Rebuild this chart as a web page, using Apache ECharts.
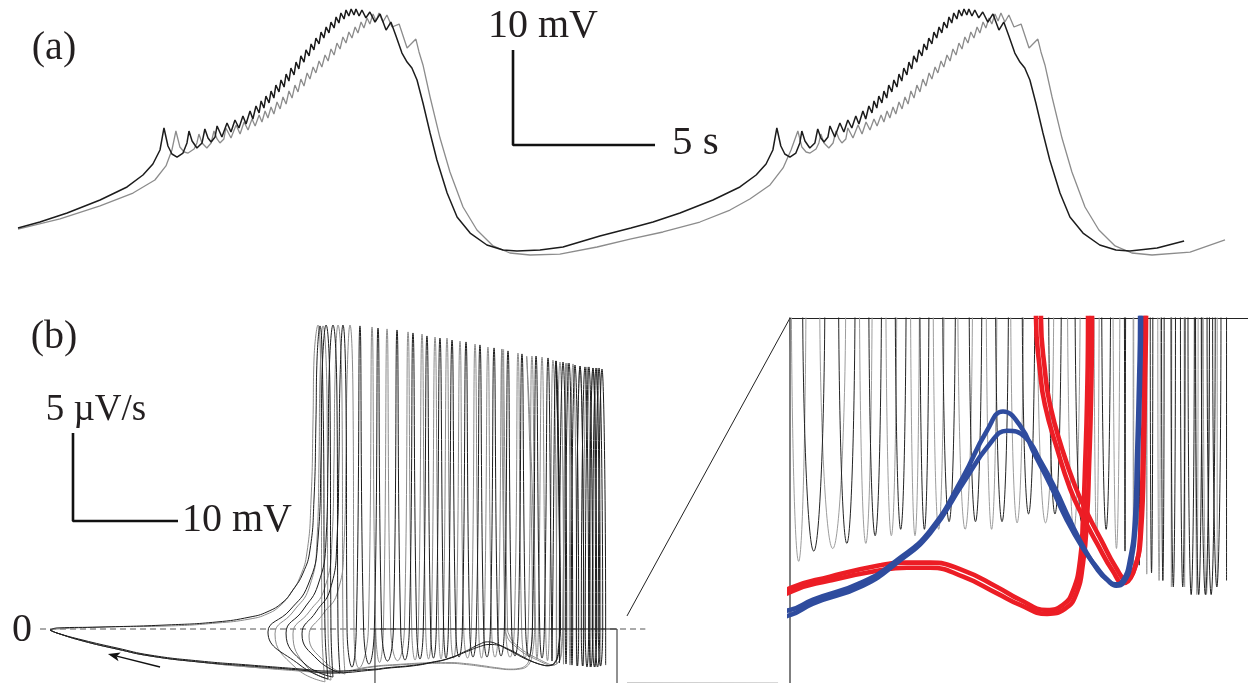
<!DOCTYPE html>
<html><head><meta charset="utf-8">
<script src="https://cdn.jsdelivr.net/npm/echarts@6/dist/echarts.min.js"></script>
<style>html,body{margin:0;padding:0;background:#fff}#c{width:1248px;height:683px}</style>
</head><body><div id="c"></div>
<script>
// ================= Panel (a): membrane voltage V (mV) vs time t (s) =================
const blackRise = [[0,-54.0],[0.77,-53.37],[1.73,-52.42],[2.89,-51.05],[3.84,-49.68],[4.40,-48.42],[4.75,-47.26],[5.00,-45.79]];
const blackBurst = [[5.14,-43.47],[5.28,-45.37],[5.42,-46.21],[5.60,-46.53],[5.81,-46.11],[5.95,-45.05],[6.02,-43.79],[6.13,-44.84],[6.30,-45.58],[6.48,-45.05],[6.58,-43.58],[6.69,-44.53],[6.80,-44.95],[6.94,-44.42],[7.01,-43.26],
 [7.18,-44.42],[7.36,-42.95],[7.50,-43.89],[7.64,-42.63],[7.78,-43.47],[7.92,-42.21],[8.03,-43.05],[8.17,-41.68],[8.27,-42.53],[8.38,-41.16],[8.49,-41.89],[8.56,-40.63],[8.66,-41.37],[8.73,-40.11],[8.84,-40.84],[8.91,-39.58],[9.01,-40.32],[9.08,-38.95],[9.19,-39.68],[9.26,-38.42],[9.37,-39.16],[9.44,-37.79],[9.54,-38.53],[9.61,-37.16],[9.72,-37.89],[9.79,-36.53],[9.89,-37.26],[9.96,-35.89],[10.07,-36.53],[10.14,-35.26],[10.25,-35.89],[10.32,-34.63],[10.42,-35.26],[10.49,-34.0],[10.60,-34.63],[10.67,-33.37],[10.77,-34.0],[10.85,-32.84],[10.95,-33.47],[11.02,-32.32],[11.13,-32.95],[11.20,-31.79],[11.30,-32.42],[11.37,-31.37],[11.48,-32.0],[11.55,-31.05],[11.65,-31.68],[11.73,-30.95],[11.83,-31.58],[11.90,-30.95],[12.01,-31.68],[12.11,-31.05],[12.25,-31.89],[12.39,-31.26],[12.57,-32.32],[12.75,-31.47],[12.96,-33.16],[13.13,-32.32],[13.31,-33.79],
 [13.52,-35.58],[13.70,-36.53],[13.87,-37.16],[14.05,-38.42],[14.26,-40.84],[14.51,-44.0],[14.75,-46.84],[15.11,-50.32],[15.46,-52.84],[15.92,-54.53],[16.51,-55.79],[17.08,-56.32],[17.57,-56.42]];
const blackInterburst = [[18.38,-56.32],[19.19,-56.0],[20.49,-54.84],[21.58,-54.0],[22.36,-53.37],[23.31,-52.42],[24.47,-51.05],[25.42,-49.68],[25.99,-48.42],[26.34,-47.26],[26.58,-45.79]];
const blackTail = [[40.11,-56.11],[41.06,-55.37]];
const blackPeriod = 21.58;

const grayRise = [[0,-54.11],[1.48,-53.05],[2.89,-51.68],[4.05,-50.32],[4.82,-48.95],[5.21,-47.47],[5.42,-45.79]];
const grayBurst = [[5.56,-43.79],[5.70,-45.47],[5.85,-46.0],[5.99,-46.11],[6.20,-45.68],[6.30,-45.05],[6.37,-44.11],[6.48,-45.05],[6.65,-45.58],[6.80,-45.05],[6.90,-43.79],[7.01,-44.63],[7.11,-45.05],[7.25,-44.63],[7.32,-43.47],
 [7.50,-44.53],[7.68,-43.16],[7.82,-44.11],[7.96,-42.84],[8.10,-43.68],[8.24,-42.53],[8.35,-43.26],[8.49,-42.11],[8.59,-42.84],[8.70,-41.68],[8.80,-42.42],[8.91,-41.26],[9.01,-42.0],[9.12,-40.74],[9.23,-41.47],[9.33,-40.21],[9.44,-40.95],[9.54,-39.58],[9.65,-40.32],[9.75,-38.95],[9.86,-39.68],[9.96,-38.32],[10.07,-39.05],[10.18,-37.68],[10.28,-38.32],[10.39,-37.05],[10.49,-37.68],[10.60,-36.42],[10.70,-37.05],[10.81,-35.79],[10.92,-36.42],[11.02,-35.16],[11.13,-35.79],[11.23,-34.53],[11.34,-35.16],[11.44,-33.89],[11.55,-34.53],[11.65,-33.37],[11.76,-34.0],[11.87,-32.84],[11.97,-33.47],[12.08,-32.32],[12.18,-32.95],[12.29,-31.89],[12.39,-32.53],[12.50,-31.47],[12.61,-32.21],[12.71,-31.37],[12.85,-32.32],[12.99,-31.58],[13.17,-32.84],[13.42,-32.53],[13.70,-35.05],[14.01,-34.11],
 [14.12,-35.47],[14.26,-36.84],[14.51,-40.21],[14.86,-44.53],[15.21,-48.11],[15.67,-51.79],[16.16,-54.21],[16.73,-55.89],[17.32,-56.63],[18.03,-56.84]];
const grayInterburst = [[19.08,-56.74],[20.39,-56.0],[21.55,-55.16],[22.71,-54.42],[24.01,-53.37],[25.07,-52.11],[25.77,-50.95],[26.48,-49.47],[26.94,-47.68],[27.22,-45.79]];
const grayTail = [[41.27,-56.53],[42.50,-55.26]];
const grayPeriod = 21.90;

// ================= Panel (b): phase plane, dV/dt (µV/s) vs V (mV) =================
const blackOnset = [[-60.0,-0.06],[-59.33,0.06],[-55.24,0.11],[-48.86,0.23],[-44.10,0.40],[-40.95,0.68],[-39.33,0.97],[-37.81,1.53],[-36.86,2.22],[-35.90,3.18],[-35.24,4.49],[-34.86,7.33],[-34.67,11.88],[-34.57,15.28],
 [-34.29,17.22],[-34.0,13.01],[-33.81,0],[-33.52,-2.84],[-36.19,-2.05],[-39.24,-0.17],[-37.14,1.08],[-35.43,2.50],[-34.48,5.06],[-34.19,9.60],[-34.10,14.15],
 [-33.71,17.27],[-33.33,13.01],[-33.24,0],[-33.05,-2.73],[-35.71,-1.99],[-37.52,-0.23],[-35.90,1.08],[-34.48,2.50],[-33.71,5.06],[-33.52,9.60],[-33.43,14.15],
 [-33.05,17.27],[-32.67,13.01],[-32.57,0],[-32.38,-2.50],[-34.48,-1.76],[-36.0,-0.28],[-34.67,0.97],[-33.33,2.22],[-32.67,5.06],[-32.48,9.60],[-32.38,14.15],
 [-32.10,17.27],[-31.81,13.01],[-31.71,0],[-31.24,-2.16]];
// spike records: [V rising zero-crossing, V falling zero-crossing, peak dV/dt, trough dV/dt]
const blackSpikes = [[-30.83,-30.13,17.22,-1.99],[-29.11,-28.41,17.10,-1.82],[-27.30,-26.60,16.99,-1.76],[-25.78,-25.08,16.82,-1.70],[-24.45,-23.75,16.65,-1.65],[-23.21,-22.51,16.53,-1.65],[-22.06,-21.36,16.42,-1.59],[-20.73,-20.03,16.31,-1.59],[-19.40,-18.70,16.14,-1.59],[-18.06,-17.36,15.97,-1.53],[-16.73,-16.03,15.80,-1.53],[-15.40,-14.70,15.63,-1.59],[-14.06,-13.36,15.51,-1.65],[-12.92,-12.22,15.40,-1.82],[-12.16,-11.46,15.23,-1.93],[-11.49,-10.79,15.17,-1.99],[-10.92,-10.22,15.11,-2.05],[-10.35,-9.65,15.00,-2.10],[-9.87,-9.17,14.94,-2.10],[-9.40,-8.70,14.89,-2.16],[-9.02,-8.32,14.89,-2.16],[-8.64,-7.94,14.83,-2.16],[-8.35,-7.65,14.83,-2.16],[-8.06,-7.36,14.83,-2.10],[-7.78,-7.08,14.77,-2.05]];
const blackReturnA = [[-11.81,15.23],[-11.43,0],[-11.48,-0.48],[-11.59,-1.11],[-11.69,-1.58],[-11.94,-1.89],[-12.29,-2.05],[-12.69,-2.08],[-13.10,-2.04],[-13.60,-1.95],[-14.30,-1.80],[-15.11,-1.58],[-15.96,-1.30],[-16.72,-1.07],[-17.47,-0.84],[-18.33,-0.73],[-19.14,-0.88],[-20.34,-1.24],[-22.00,-1.66],[-23.66,-1.89],[-25.38,-2.06],[-27.89,-2.20],[-29.05,-2.28],[-33.33,-2.39],[-36.19,-2.27],[-40.95,-2.05],[-45.71,-1.82],[-50.48,-1.48],[-53.62,-1.08],[-56.86,-0.63],[-59.33,-0.23],[-60.0,-0.06]];
const blackReturnB = [[-11.81,15.23],[-11.38,0],[-11.43,-0.48],[-11.54,-1.11],[-11.64,-1.58],[-11.89,-1.91],[-12.24,-2.06],[-12.64,-2.09],[-13.05,-2.05],[-13.55,-1.97],[-14.20,-1.81],[-14.96,-1.58],[-15.71,-1.33],[-16.47,-1.11],[-17.22,-0.93],[-18.13,-0.88],[-18.98,-0.98],[-20.34,-1.29],[-22.00,-1.68],[-23.66,-1.91],[-25.38,-2.09],[-27.89,-2.23],[-29.05,-2.32],[-33.33,-2.50],[-36.19,-2.33],[-40.95,-2.10],[-45.71,-1.88],[-50.48,-1.53],[-53.62,-1.14],[-56.86,-0.68],[-59.33,-0.23],[-60.0,-0.06]];

const grayOnset = [[-60.0,-0.06],[-59.33,0],[-55.24,0.11],[-48.86,0.17],[-44.10,0.34],[-40.95,0.57],[-39.33,0.85],[-38.10,1.31],[-37.14,1.99],[-36.19,2.95],[-35.52,4.38],[-35.14,7.33],[-34.95,11.88],[-34.86,15.28],
 [-34.48,17.27],[-34.19,13.01],[-34.10,0],[-33.81,-3.0],[-36.57,-2.22],[-38.57,-0.28],[-36.86,0.97],[-35.33,2.33],[-34.57,5.06],[-34.38,9.60],[-34.29,14.15],
 [-34.0,17.22],[-33.62,13.01],[-33.52,0],[-33.24,-2.90],[-35.52,-2.16],[-36.86,-0.28],[-35.33,0.97],[-33.90,2.22],[-33.14,5.06],[-32.95,9.60],[-32.86,14.15],
 [-32.57,17.27],[-32.19,13.01],[-32.10,0],[-31.90,-2.56],[-33.81,-1.88],[-35.33,-0.40],[-34.0,0.85],[-32.67,1.99],[-32.0,4.77],[-31.81,9.60],[-31.71,14.15],
 [-31.43,17.27],[-31.14,13.01],[-31.05,0],[-30.57,-2.22]];
const graySpikes = [[-29.68,-28.98,17.16,-1.90],[-28.25,-27.55,17.05,-1.80],[-26.25,-25.55,16.88,-1.76],[-24.92,-24.22,16.76,-1.70],[-23.68,-22.98,16.59,-1.70],[-22.54,-21.84,16.53,-1.65],[-21.30,-20.60,16.36,-1.65],[-19.87,-19.17,16.19,-1.65],[-18.64,-17.94,16.02,-1.60],[-17.30,-16.60,15.91,-1.60],[-15.78,-15.08,15.68,-1.65],[-14.45,-13.75,15.51,-1.70],[-13.49,-12.79,15.45,-1.80],[-12.45,-11.75,15.28,-1.95],[-11.78,-11.08,15.17,-2.00],[-11.11,-10.41,15.11,-2.05],[-10.54,-9.84,15.06,-2.10],[-9.87,-9.17,14.94,-2.10],[-9.21,-8.51,14.89,-2.16],[-8.64,-7.94,14.83,-2.16],[-8.25,-7.55,14.83,-2.10]];
const grayReturnA1 = [[-14.6,15.5],[-14.05,0],[-14.10,-0.64],[-14.20,-1.16],[-14.30,-1.55],[-14.45,-1.89],[-14.81,-2.13],[-15.31,-2.24],[-16.11,-2.28],[-17.47,-2.20],[-18.63,-2.10],[-20.34,-1.97],[-22.00,-1.91],[-23.16,-1.91],[-24.52,-1.93],[-27.04,-2.02],[-29.05,-2.11],[-33.33,-2.44],[-36.19,-2.33],[-40.95,-2.16],[-45.71,-1.88],[-50.48,-1.53],[-53.62,-1.14],[-56.86,-0.68],[-59.33,-0.23],[-60.0,-0.06]];
const grayReturnA2 = [[-14.6,15.5],[-13.85,0],[-13.90,-0.64],[-14.00,-1.16],[-14.10,-1.56],[-14.30,-1.91],[-14.66,-2.16],[-15.21,-2.27],[-16.11,-2.31],[-17.47,-2.24],[-18.63,-2.15],[-20.34,-2.02],[-22.00,-1.95],[-23.16,-1.95],[-24.52,-1.97],[-27.04,-2.05],[-29.05,-2.14],[-33.33,-2.50],[-36.19,-2.39],[-40.95,-2.16],[-45.71,-1.88],[-50.48,-1.53],[-53.62,-1.14],[-56.86,-0.68],[-59.33,-0.23],[-60.0,-0.06]];
const grayReturnB1 = [[-17.0,15.9],[-16.67,0],[-16.47,-0.41],[-16.22,-0.68],[-15.61,-1.02],[-14.96,-1.33],[-14.35,-1.54],[-13.60,-1.76],[-12.79,-1.98],[-12.29,-2.07],[-11.79,-1.99],[-11.43,-1.70],[-11.28,-0.95],[-11.23,-0.48],[-11.18,0],[-10.9,15.1]];
const grayReturnB2 = [[-16.8,15.9],[-16.42,0],[-16.22,-0.41],[-15.96,-0.68],[-15.36,-1.02],[-14.71,-1.31],[-14.10,-1.52],[-13.40,-1.73],[-12.64,-1.95],[-12.14,-2.04],[-11.69,-1.95],[-11.38,-1.66],[-11.23,-0.95],[-11.18,-0.48],[-11.13,0],[-10.85,15.1]];

// zoomed window shown in the inset
const insetV = [-29.05, -6.0];
const insetRate = [-2.85, 0];

// scale bar / label texts
const labels = {a:'(a)', b:'(b)', aV:'10 mV', aT:'5 s', bR:'5 µV/s', bV:'10 mV', zero:'0'};

// ---------------- builders ----------------
function shiftTime(arr, dt){ return arr.map(p => [p[0] + dt, p[1]]); }
function spikePath(records){
  const pts = [];
  records.forEach((r, i) => {
    const [up, down, top, bottom] = r;
    pts.push([up, 0], [(up + down) / 2, top], [down, 0]);
    const nxt = records[i + 1];
    pts.push([nxt ? (down + nxt[0]) / 2 : down, bottom]);
  });
  return pts;
}
const blackTrace = [].concat(blackRise, blackBurst, blackInterburst, shiftTime(blackBurst, blackPeriod), blackTail);
const grayTrace = [].concat(grayRise, grayBurst, grayInterburst, shiftTime(grayBurst, grayPeriod), grayTail);
const blackPhase = blackOnset.concat(spikePath(blackSpikes));
const grayPhase = grayOnset.concat(spikePath(graySpikes));

const BLACK = '#1c1c1c', GRAY = '#8a8a8a', RED = '#ec1d25', BLUE = '#2f4c9e';
function line(data, gi, color, width, extra){
  return Object.assign({type:'line', xAxisIndex:gi, yAxisIndex:gi, data:data, symbol:'none', showSymbol:false,
    silent:true, animation:false, clip: gi !== 0, lineStyle:{color:color, width:width}}, extra || {});
}
const SM = {smooth:0.5};

const series = [
  // panel (a)
  line(grayTrace, 0, '#8c8c8c', 1.3),
  line(blackTrace, 0, BLACK, 1.5),
  line([[17.43,-35.26],[17.43,-45.26],[22.43,-45.26]], 0, '#111', 2.6),
  // panel (b) left
  line([[-60.95,0],[-3.3,0]], 1, '#555', 1, {lineStyle:{color:'#555', width:1, type:[6,4]}}),
  line(grayPhase, 1, GRAY, 1, SM),
  line(grayReturnA1, 1, GRAY, 1, SM), line(grayReturnA2, 1, GRAY, 1, SM),
  line(grayReturnB1, 1, GRAY, 1, SM), line(grayReturnB2, 1, GRAY, 1, SM),
  line(blackPhase, 1, BLACK, 1, SM),
  line(blackReturnA, 1, BLACK, 1, SM), line(blackReturnB, 1, BLACK, 1, SM),
  line([[insetV[0],-3.5],[insetV[0],0],[insetV[1],0],[insetV[1],-3.5]], 1, '#222', 1),
  line([[-57.81,11.14],[-57.81,6.14],[-47.81,6.14]], 1, '#111', 2.6),
  // inset
  line(spikePath(graySpikes), 2, '#9c9c9c', 1, SM),
  line(spikePath(blackSpikes), 2, '#222', 1, SM),
  line(grayReturnA1, 2, RED, 4.6, SM), line(grayReturnA2, 2, RED, 4.6, SM),
  line(grayReturnB1, 2, RED, 4.6, SM), line(grayReturnB2, 2, RED, 4.6, SM),
  line(blackReturnA, 2, BLUE, 4.6, SM), line(blackReturnB, 2, BLUE, 4.6, SM)
];

function txt(id, s, x, y, align, size){
  return {type:'text', id:id, x:x, y:y, silent:true, z:100,
    style:{text:s, font:(size || 40) + 'px "Liberation Serif", "Times New Roman", serif', fill:'#231f20', textAlign:align || 'center', textVerticalAlign:'middle'}};
}
const hidden = {show:false};
const option = {
  animation:false,
  backgroundColor:'#fff',
  grid:[
    {left:18, top:0, width:1221.2, height:266, outerBoundsMode:'none'},
    {left:39.5, top:312.2, width:609, height:370.8, outerBoundsMode:'none'},
    {left:790, top:318, width:458, height:365, outerBoundsMode:'none'}
  ],
  xAxis:[
    {gridIndex:0, type:'value', min:0, max:43, show:false},
    {gridIndex:1, type:'value', min:-61, max:-3, show:false},
    {gridIndex:2, type:'value', min:insetV[0], max:insetV[1], position:'top',
      axisLine:{show:true, onZero:false, lineStyle:{color:'#222', width:1.2}}, axisTick:hidden, axisLabel:hidden, splitLine:hidden}
  ],
  yAxis:[
    {gridIndex:0, type:'value', min:-58, max:-30, show:false},
    {gridIndex:1, type:'value', min:-3.068, max:18, show:false},
    {gridIndex:2, type:'value', min:insetRate[0], max:insetRate[1],
      axisLine:{show:true, onZero:false, lineStyle:{color:'#555', width:1.5}}, axisTick:hidden, axisLabel:hidden, splitLine:hidden}
  ],
  series: series,
  graphic:[
    txt('ta', labels.a, 54, 48),
    txt('taV', labels.aV, 543, 26),
    txt('taT', labels.aT, 672, 143, 'left', 41),
    txt('tb', labels.b, 54, 337),
    txt('tbR', labels.bR, 96, 410, 'center', 37),
    txt('tbV', labels.bV, 182, 520, 'left'),
    txt('t0', labels.zero, 22, 630)
  ]
};
const chart = echarts.init(document.getElementById('c'), null, {renderer:'canvas', width:1248, height:683});
chart.setOption(option);
// connector lines between the zoom window and the inset, and the direction arrow, placed through the axes
const px = (g, p) => chart.convertToPixel({gridIndex:g}, p);
const p1 = px(1, [-5.05, 0.74]), p2 = px(2, [insetV[0], insetRate[1]]);
const p3 = px(1, [-5.05, -3.05]), p4 = px(2, [insetV[0] - 0.6, insetRate[0]]);
const aTail = px(1, [-49.52, -2.16]), aHead = px(1, [-54.48, -1.42]);
const dx = aHead[0] - aTail[0], dy = aHead[1] - aTail[1], dl = Math.hypot(dx, dy);
const ux = dx / dl, uy = dy / dl, hl = 12, hw = 4.5;
const base = [aHead[0] - ux * hl, aHead[1] - uy * hl];
chart.setOption({graphic:[
  {type:'line', id:'c1', silent:true, shape:{x1:p1[0], y1:p1[1], x2:p2[0], y2:p2[1]}, style:{stroke:'#222', lineWidth:1}},
  {type:'line', id:'c2', silent:true, shape:{x1:p3[0], y1:p3[1], x2:p4[0], y2:p4[1]}, style:{stroke:'#ccc', lineWidth:1.5}},
  {type:'line', id:'ar', silent:true, shape:{x1:aTail[0], y1:aTail[1], x2:base[0] + ux * 3, y2:base[1] + uy * 3}, style:{stroke:'#111', lineWidth:1.4}},
  {type:'polygon', id:'ah', silent:true, shape:{points:[aHead, [base[0] - uy * hw, base[1] + ux * hw], [base[0] + ux * 3, base[1] + uy * 3], [base[0] + uy * hw, base[1] - ux * hw]]}, style:{fill:'#111'}}
]});
</script>
</body></html>
